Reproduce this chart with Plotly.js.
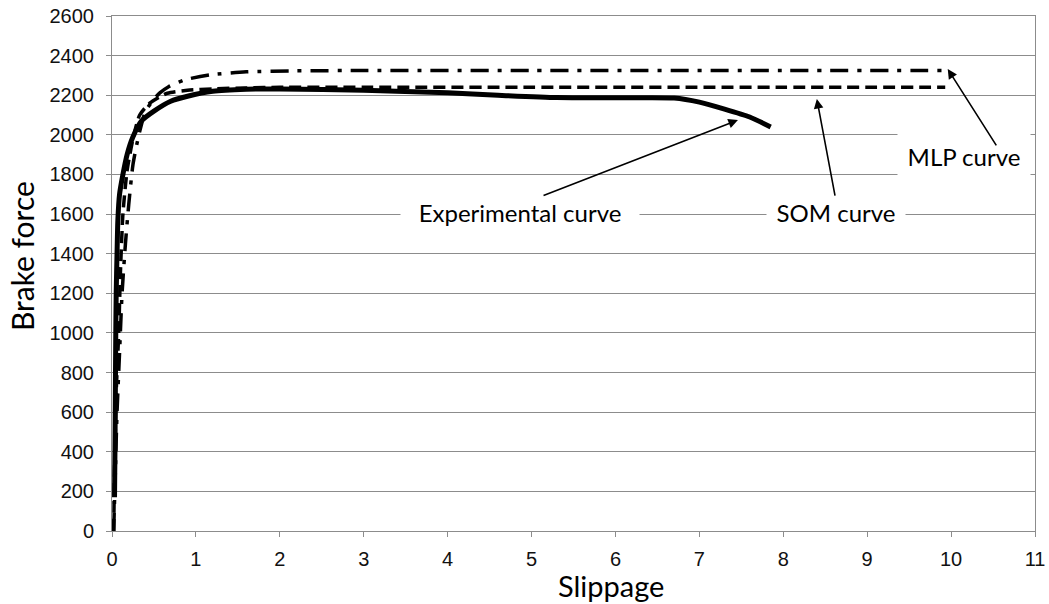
<!DOCTYPE html>
<html>
<head>
<meta charset="utf-8">
<script src="https://cdn.plot.ly/plotly-3.0.1.min.js"></script>
<style>html,body{margin:0;padding:0;background:#fff;}#chart{width:1049px;height:604px;}</style>
</head>
<body>
<div id="chart"></div>
<script>
// Experimental curve
const expX = [0.03,0.035,0.04,0.045,0.05,0.06,0.07,0.09,0.13,0.18,0.25,0.35,0.5,0.7,0.9,1.2,1.6,2,3,4,4.6,5.3,6,6.7,7,7.3,7.6,7.85];
const expY = [170,400,700,1000,1200,1400,1570,1700,1800,1900,1990,2070,2120,2170,2195,2220,2230,2232,2225,2212,2200,2188,2187,2186,2165,2130,2090,2040];
// SOM curve
const somX = [0.02,0.025,0.03,0.05,0.08,0.1,0.13,0.18,0.25,0.33,0.45,0.66,0.9,1.2,1.6,2,3,5,8,9.93];
const somY = [0,150,300,700,1000,1300,1600,1820,1980,2100,2160,2210,2225,2232,2237,2240,2240,2240,2240,2240];
// MLP curve
const mlpX = [0.02,0.04,0.06,0.09,0.12,0.16,0.2,0.25,0.32,0.4,0.5,0.57,0.67,0.87,1.17,1.6,2.2,3,5,8,9.9];
const mlpY = [0,300,600,900,1200,1450,1650,1850,2000,2120,2180,2212,2242,2278,2303,2318,2323,2325,2325,2325,2325];

const xTicks = [0,1,2,3,4,5,6,7,8,9,10,11];
const yTicks = [0,200,400,600,800,1000,1200,1400,1600,1800,2000,2200,2400,2600];

const labelFont = "Lato, 'Open Sans', sans-serif";
const tickFont = "'Liberation Sans', Arial, sans-serif";

const traces = [
  {x: mlpX, y: mlpY, mode: 'lines', line: {color: '#000', width: 3.5, dash: '18px,9px,4px,9px', shape: 'spline', smoothing: 0.6}, name: 'MLP curve'},
  {x: somX, y: somY, mode: 'lines', line: {color: '#000', width: 3.5, dash: '12px,6px', shape: 'spline', smoothing: 0.6}, name: 'SOM curve'},
  {x: expX, y: expY, mode: 'lines', line: {color: '#000', width: 5, shape: 'spline', smoothing: 0.6}, name: 'Experimental curve'}
];

const layout = {
  width: 1049, height: 604,
  margin: {l: 112, r: 14, t: 16, b: 73},
  paper_bgcolor: '#fff', plot_bgcolor: '#fff',
  showlegend: false,
  font: {family: tickFont, color: '#000'},
  xaxis: {
    range: [0, 11], tickvals: xTicks, ticktext: xTicks.map(String),
    showgrid: false, zeroline: false,
    showline: true, linecolor: '#8c8c8c', linewidth: 1, mirror: true,
    ticks: 'outside', ticklen: 5, tickcolor: '#8c8c8c',
    ticklabelstandoff: 5,
    tickfont: {size: 20, family: tickFont, color: '#111'}
  },
  yaxis: {
    range: [0, 2600], tickvals: yTicks, ticktext: yTicks.map(String),
    showgrid: true, gridcolor: '#8c8c8c', gridwidth: 1, zeroline: false,
    showline: true, linecolor: '#8c8c8c', linewidth: 1, mirror: true,
    ticks: 'outside', ticklen: 5, tickcolor: '#8c8c8c',
    ticklabelstandoff: 8,
    tickfont: {size: 20, family: tickFont, color: '#111'}
  },
  annotations: [
    {x: 0.541, y: -0.106, xref: 'paper', yref: 'paper', xanchor: 'center', yanchor: 'middle',
     text: 'Slippage', showarrow: false, font: {size: 29, family: labelFont, color: '#000'}},
    {x: -0.0975, y: 0.534, xref: 'paper', yref: 'paper', xanchor: 'center', yanchor: 'middle', textangle: -90,
     text: 'Brake force', showarrow: false, font: {size: 30, family: labelFont, color: '#000'}},
    {x: 4.86, y: 1610, xref: 'x', yref: 'y', text: 'Experimental curve', showarrow: false,
     font: {size: 24, family: labelFont, color: '#000'}, bgcolor: '#fff', width: 238, height: 34, borderpad: 0},
    {x: 8.63, y: 1610, xref: 'x', yref: 'y', text: 'SOM curve', showarrow: false,
     font: {size: 24, family: labelFont, color: '#000'}, bgcolor: '#fff', width: 138, height: 34, borderpad: 0},
    {x: 10.155, y: 1895, xref: 'x', yref: 'y', text: 'MLP curve', showarrow: false,
     font: {size: 24, family: labelFont, color: '#000'}, bgcolor: '#fff', width: 132, height: 58, borderpad: 0},
    {x: 7.46, y: 2075, ax: 5.125, ay: 1691, xref: 'x', yref: 'y', axref: 'x', ayref: 'y', text: '',
     showarrow: true, arrowhead: 2, arrowsize: 1.2, arrowwidth: 1.6, arrowcolor: '#000'},
    {x: 8.40, y: 2181, ax: 8.62, ay: 1686, xref: 'x', yref: 'y', axref: 'x', ayref: 'y', text: '',
     showarrow: true, arrowhead: 2, arrowsize: 1.2, arrowwidth: 1.6, arrowcolor: '#000'},
    {x: 9.96, y: 2332, ax: 10.55, ay: 1939, xref: 'x', yref: 'y', axref: 'x', ayref: 'y', text: '',
     showarrow: true, arrowhead: 2, arrowsize: 1.2, arrowwidth: 1.6, arrowcolor: '#000'}
  ]
};

Plotly.newPlot('chart', traces, layout, {displayModeBar: false, staticPlot: true});
</script>
</body>
</html>
